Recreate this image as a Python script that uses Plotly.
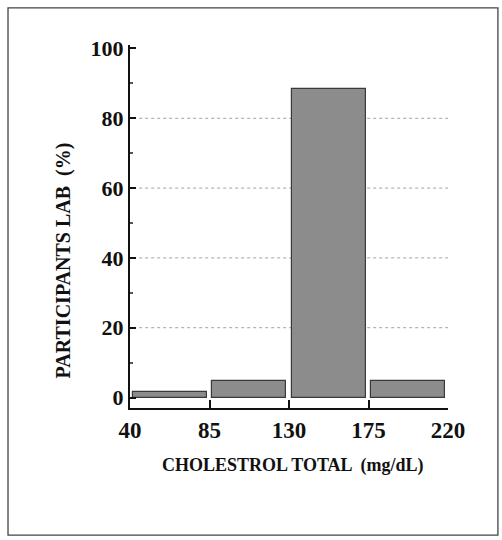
import plotly.graph_objects as go

bin_edges = [40, 85, 130, 175, 220]
bin_centers = [62.5, 107.5, 152.5, 197.5]
participants_pct = [1.7, 4.6, 88.5, 4.6]
y_ticks = [0, 20, 40, 60, 80, 100]
grid_levels = [20, 40, 60, 80]

fig = go.Figure()
fig.add_trace(go.Bar(
    x=bin_centers, y=participants_pct, width=42,
    marker=dict(color="#8c8c8c", line=dict(color="#3a3a3a", width=1.2)),
    showlegend=False,
))

for g in grid_levels:
    fig.add_shape(type="line", xref="paper", yref="y", x0=0.01, x1=1.0, y0=g, y1=g,
                  line=dict(color="#b5b5b5", width=1.2, dash="dot"), layer="below")

# outer frame
fig.add_shape(type="rect", xref="paper", yref="paper",
              x0=-0.3836, x1=1.157, y0=-0.35, y1=1.102,
              line=dict(color="#444444", width=1.3))

fig.add_annotation(text="<b>PARTICIPANTS LAB  (%)</b>", xref="paper", yref="paper",
                   x=-0.2516, y=0.408, textangle=-90, showarrow=False,
                   font=dict(family="Liberation Serif", size=20, color="#111111"))
fig.add_annotation(text="<b>CHOLESTROL TOTAL  (mg/dL)</b>", xref="paper", yref="paper",
                   x=0.5126, y=-0.193, showarrow=False,
                   font=dict(family="Liberation Serif", size=18, color="#111111"))

fig.update_layout(
    width=502, height=540,
    margin=dict(l=130, r=54, t=45, b=132),
    paper_bgcolor="white", plot_bgcolor="white",
    bargap=0,
    xaxis=dict(range=[40, 220], tickvals=bin_edges, ticks="inside", ticklen=8,
               tickwidth=1.5, tickcolor="#111", showline=True, linecolor="#111",
               linewidth=2, showgrid=False, zeroline=False,
               tickfont=dict(family="Liberation Serif", size=23, color="#111",
                             weight="bold")),
    yaxis=dict(range=[-3, 101], tickvals=y_ticks, ticks="inside", ticklen=6,
               tickwidth=1.5, tickcolor="#111", showline=True, linecolor="#111",
               linewidth=2, showgrid=False, zeroline=False,
               minor=dict(tickvals=[10, 30, 50, 70, 90], ticks="inside", ticklen=3,
                          tickcolor="#555"),
               tickfont=dict(family="Liberation Serif", size=22, color="#111",
                             weight="bold")),
)

fig.write_html("out.html", config={"displayModeBar": False},
               post_script="document.body.style.margin='0';")
